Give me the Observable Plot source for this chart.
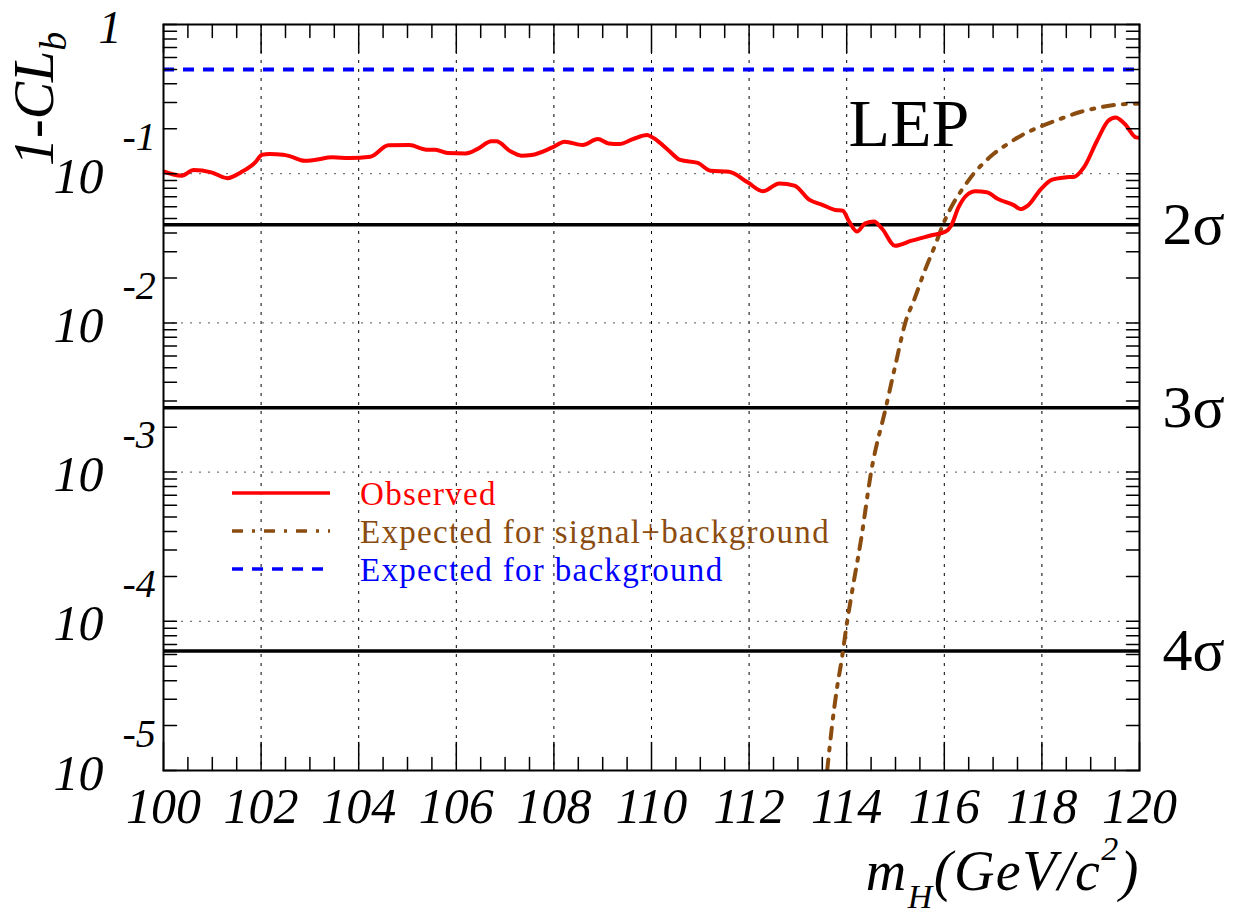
<!DOCTYPE html>
<html><head><meta charset="utf-8">
<script src="https://cdn.jsdelivr.net/npm/d3@7"></script>
<script src="https://cdn.jsdelivr.net/npm/@observablehq/plot@0.6"></script>
<style>
html,body{margin:0;padding:0;background:#fff;}
#chart{width:1240px;height:917px;}
</style></head><body><div id="chart"></div>
<script>
// ---------------- data ----------------
const obsMass = [100.00,100.37,100.62,100.98,101.31,101.59,101.88,102.02,102.17,102.45,102.60,102.89,103.09,103.46,103.81,104.24,104.61,105.04,105.39,105.57,105.82,106.19,106.43,106.72,106.82,107.11,107.33,107.54,107.97,108.22,108.59,108.90,109.12,109.34,109.62,109.91,110.05,110.34,110.59,110.95,111.21,111.59,111.97,112.28,112.62,112.93,113.23,113.50,113.77,113.92,114.04,114.21,114.38,114.56,114.73,114.99,115.33,115.72,116.03,116.14,116.29,116.45,116.64,116.87,117.10,117.44,117.56,117.71,117.98,118.21,118.47,118.67,118.86,119.13,119.36,119.51,119.70,119.93,120.00];
const obsCLb = [0.1035,0.0970,0.1059,0.1021,0.0933,0.1023,0.1191,0.1340,0.1355,0.1340,0.1306,0.1222,0.1236,0.1288,0.1274,0.1300,0.1549,0.1556,0.1449,0.1449,0.1377,0.1368,0.1462,0.1648,0.1648,0.1413,0.1321,0.1334,0.1500,0.1637,0.1556,0.1706,0.1596,0.1581,0.1706,0.1816,0.1726,0.1442,0.1236,0.1180,0.1047,0.1030,0.0875,0.0762,0.0861,0.0832,0.0670,0.0619,0.0571,0.0565,0.0484,0.0410,0.0465,0.0479,0.0426,0.0329,0.0356,0.0385,0.0410,0.0448,0.0594,0.0713,0.0762,0.0750,0.0676,0.0611,0.0579,0.0611,0.0789,0.0912,0.0944,0.0955,0.1102,0.1663,0.2265,0.2382,0.2153,0.1750,0.1738];

const sbMass = [113.60,113.70,113.80,113.90,114.00,114.10,114.30,114.50,114.80,115.00,115.20,115.40,115.60,115.80,116.00,116.20,116.40,116.60,116.80,117.00,117.30,117.60,118.00,118.40,118.80,119.20,119.60,120.00];
const sbCLb = [1.0e-5,2.0e-5,3.55e-5,5.6e-5,9.5e-5,1.51e-4,3.63e-4,1.0e-3,2.69e-3,5.25e-3,0.0100,0.0148,0.0224,0.0324,0.0479,0.0646,0.0813,0.100,0.1175,0.1349,0.1585,0.1820,0.2089,0.2344,0.2600,0.2786,0.2917,0.2951];

const bkgCLb = [0.5];

const sigmaLabels = ["2σ", "3σ", "4σ"];
const sigmaCLb = [0.0455, 0.0027, 0.0000633];

const xTickLabels = [100,102,104,106,108,110,112,114,116,118,120];
const yDecades = [1, 1e-1, 1e-2, 1e-3, 1e-4, 1e-5];

const legendLabels = ["Observed", "Expected for signal+background", "Expected for background"];
const experimentLabel = ["LEP"];

// ---------------- layout / style ----------------
const W = 1240, H = 917, mL = 163, mR = 101, mT = 24, mB = 147;
const FONT = '"Liberation Serif","Times New Roman",Times,serif';
const RED = "#ff0000", BROWN = "#8b4c10", BLUE = "#0000ff";
const DASHDOT = "11,9,3,9", DASH = "11,9";

const obs = obsMass.map((m, i) => ({m, p: obsCLb[i]}));
const sb = sbMass.map((m, i) => ({m, p: sbCLb[i]}));
const sig = sigmaLabels.map((label, i) => ({label, p: sigmaCLb[i]}));

const xMinor = d3.range(100, 120.0001, 0.5).filter(v => !xTickLabels.includes(v));
const yAll = [];
yDecades.slice(1).forEach(d => { for (let k = 1; k <= 9; k++) yAll.push(k * d); });
yAll.push(1);
const xGrid = xTickLabels.slice(1, -1);
const yGrid = yDecades.slice(1, -1);

const tickShape = {draw(ctx, l) { ctx.moveTo(0, 0); ctx.lineTo(0, -l); }};
const tickMarks = (data, ch, frameAnchor, rotate, length) =>
  Plot.vector(data, {[ch]: d => d, frameAnchor, rotate, length, anchor: "start",
    shape: tickShape, stroke: "black", strokeWidth: 1.5});

const chart = Plot.plot({
  width: W, height: H,
  marginLeft: mL, marginRight: mR, marginTop: mT, marginBottom: mB,
  style: {fontFamily: FONT, color: "black", background: "white"},
  x: {domain: [100, 120], label: null},
  y: {type: "log", domain: [1e-5, 1], label: null},
  marks: [
    Plot.gridX(xGrid, {stroke: "#000", strokeOpacity: 1, strokeWidth: 1, strokeDasharray: "3,6"}),
    Plot.gridY(yGrid, {stroke: "#555", strokeOpacity: 1, strokeWidth: 1, strokeDasharray: "2,7"}),
    Plot.ruleY(sig, {y: "p", stroke: "black", strokeWidth: 3.5}),
    Plot.ruleY(bkgCLb, {stroke: BLUE, strokeWidth: 4, strokeDasharray: DASH}),
    Plot.line(sb, {x: "m", y: "p", stroke: BROWN, strokeWidth: 4, strokeDasharray: DASHDOT, curve: "monotone-x", clip: true}),
    Plot.line(obs, {x: "m", y: "p", stroke: RED, strokeWidth: 4, strokeLinejoin: "round", curve: "monotone-x", clip: true}),
    Plot.frame({stroke: "black", strokeWidth: 2}),
    tickMarks(yAll, "y", "left", 90, 13),
    tickMarks(yAll, "y", "right", -90, 13),
    tickMarks(xMinor, "x", "bottom", 0, 13),
    tickMarks(xTickLabels, "x", "bottom", 0, 28),
    tickMarks(xMinor, "x", "top", 180, 13),
    tickMarks(xTickLabels, "x", "top", 180, 28),
    Plot.axisX(xTickLabels, {anchor: "bottom", tickSize: 0, tickPadding: 52, lineAnchor: "bottom",
      fontSize: 50, fontStyle: "italic", tickFormat: d => String(d), label: null}),
    Plot.axisY(yDecades.slice(1), {anchor: "left", tickSize: 0, tickPadding: 60, lineAnchor: "bottom", dy: 19,
      fontSize: 50, fontStyle: "italic", tickFormat: () => "10", label: null}),
    Plot.axisY(yDecades.slice(1), {anchor: "left", tickSize: 0, tickPadding: 41, textAnchor: "start", lineAnchor: "bottom", dy: -24,
      fontSize: 40, fontStyle: "italic", tickFormat: d => "-" + Math.round(-Math.log10(d)), label: null}),
    Plot.axisY(yDecades.slice(0, 1), {anchor: "left", tickSize: 0, tickPadding: 42, lineAnchor: "bottom", dy: 18,
      fontSize: 46, fontStyle: "italic", tickFormat: () => "1", label: null}),
    Plot.text(sig, {y: "p", text: "label", frameAnchor: "right", dx: 23, textAnchor: "start", lineAnchor: "middle",
      fontSize: 60, fill: "black"}),
    Plot.text(experimentLabel, {text: d => d, frameAnchor: "top-left", dx: 685, dy: 121, lineAnchor: "bottom",
      textAnchor: "start", fontSize: 68, fill: "black"})
  ]
});
document.getElementById("chart").appendChild(chart);

// ---------------- titles & legend (SVG text with sub/superscripts) ----------------
const svg = d3.select(chart);
const yt = svg.append("text").attr("transform", "translate(53,166) rotate(-90)").attr("text-anchor", "start")
  .attr("font-family", FONT).attr("font-style", "italic").attr("font-size", 56).attr("fill", "black");
yt.append("tspan").text("1-CL");
yt.append("tspan").attr("font-size", 38).attr("dy", 13).text("b");

const xt = svg.append("text").attr("x", 1140).attr("y", 890).attr("text-anchor", "end")
  .attr("font-family", FONT).attr("font-style", "italic").attr("font-size", 56)
  .attr("letter-spacing", 1.5).attr("fill", "black");
xt.append("tspan").text("m");
xt.append("tspan").attr("font-size", 34).attr("dy", 18).text("H");
xt.append("tspan").attr("dy", -18).text("(GeV/c");
xt.append("tspan").attr("font-size", 34).attr("dy", -30).text("2");
xt.append("tspan").attr("dy", 30).text(")");

const legendStyles = [
  {stroke: RED, dash: null},
  {stroke: BROWN, dash: DASHDOT},
  {stroke: BLUE, dash: DASH}
];
const lg = svg.append("g").attr("font-family", FONT).attr("font-size", 33)
  .attr("letter-spacing", 1.3).attr("text-anchor", "start");
legendLabels.forEach((label, i) => {
  const y = 493 + i * 38;
  const st = legendStyles[i];
  const ln = lg.append("line").attr("x1", 232).attr("x2", 330).attr("y1", y).attr("y2", y)
    .attr("stroke", st.stroke).attr("stroke-width", 3.5);
  if (st.dash) ln.attr("stroke-dasharray", st.dash);
  lg.append("text").attr("x", 360).attr("y", y + 12).attr("fill", st.stroke).text(label);
});
</script>
</body></html>
